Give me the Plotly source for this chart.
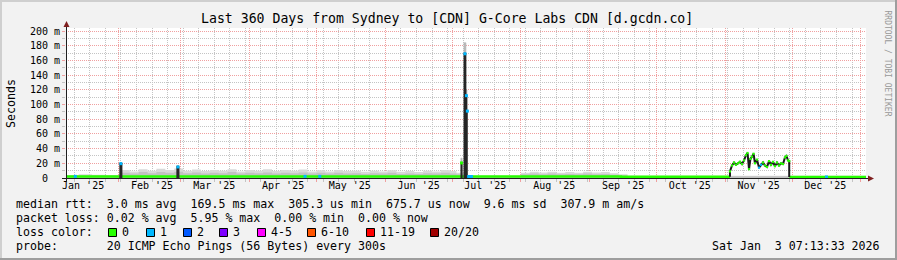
import plotly.graph_objects as go
import pandas as pd

MONO = "DejaVu Sans Mono"
W, H = 897, 260
PL, PR, PT, PB = 66, 866, 28, 178          # plot area in pixels
T_START, T_END = "2025-01-08 07:13:33", "2026-01-03 07:13:33"
Y_MAX = 204.08

BACK, SHADE_A, SHADE_B = "#f2f2f2", "#cfcfcf", "#9e9e9e"
GRID, MGRID = "#c4c4c4", "#f0a0a0"
ARROW, AXIS = "#7f1f1f", "#1f1f1f"
SMOKE_LIGHT, SMOKE_MID, SMOKE_DARK, SMOKE_CAP = "#d9d9d9", "#c2c2c2", "#262626", "#b8b8b8"

# ---------------- data ----------------
loss_labels = ["0", "1", "2", "3", "4-5", "6-10", "11-19", "20/20"]
loss_colors = ["#26ff00", "#00b8ff", "#0059ff", "#7e00ff", "#ff00ff", "#ff5500", "#ff0000", "#a10000"]

month_labels = ["Jan '25", "Feb '25", "Mar '25", "Apr '25", "May '25", "Jun '25",
                "Jul '25", "Aug '25", "Sep '25", "Oct '25", "Nov '25", "Dec '25"]
month_label_dates = ["2025-01-16", "2025-02-16", "2025-03-16", "2025-04-16", "2025-05-16", "2025-06-16",
                     "2025-07-16", "2025-08-16", "2025-09-16", "2025-10-16", "2025-11-16", "2025-12-16"]
y_tick_vals = [0, 20, 40, 60, 80, 100, 120, 140, 160, 180, 200]
y_tick_text = ["0\u00a0\u00a0", "20 m", "40 m", "60 m", "80 m", "100 m", "120 m",
               "140 m", "160 m", "180 m", "200 m"]
y_minor_vals = [10, 30, 50, 70, 90, 110, 130, 150, 170, 190]

# smoke (spread of pings), ms
smoke_dates = ["2025-01-08 07:13", "2025-01-14", "2025-01-20", "2025-01-26", "2025-02-02",
               "2025-02-06", "2025-02-10", "2025-02-14", "2025-02-18", "2025-02-22",
               "2025-02-26", "2025-03-02", "2025-03-06", "2025-03-10", "2025-03-14",
               "2025-03-18", "2025-03-22", "2025-03-26", "2025-03-30", "2025-04-03",
               "2025-04-07", "2025-04-11", "2025-04-15", "2025-04-19", "2025-04-23",
               "2025-04-27", "2025-05-01", "2025-05-05", "2025-05-09", "2025-05-13",
               "2025-05-17", "2025-05-21", "2025-05-25", "2025-05-29", "2025-06-02",
               "2025-06-06", "2025-06-10", "2025-06-14", "2025-06-18", "2025-06-22",
               "2025-06-26", "2025-06-30", "2025-07-03", "2025-07-08", "2025-08-01",
               "2025-08-05", "2025-08-09", "2025-08-13", "2025-08-17", "2025-08-21",
               "2025-08-25", "2025-08-29", "2025-09-02", "2025-09-06", "2025-09-10",
               "2025-09-14", "2025-09-18", "2026-01-03 07:13"]
smoke_hi = [4.0, 5.0, 4.5, 4.0, 11.0,
            9.0, 12.0, 10.0, 12.5, 11.0,
            13.0, 10.0, 11.5, 9.5, 11.0,
            10.0, 12.0, 9.0, 11.0, 10.0,
            12.0, 9.5, 11.0, 10.0, 11.5,
            9.0, 10.5, 9.0, 11.0, 9.5,
            10.0, 8.5, 10.0, 9.0, 10.5,
            8.5, 9.5, 8.0, 10.0, 9.0,
            11.0, 9.5, 7.0, 3.0, 7.0,
            8.5, 7.5, 8.5, 7.0, 8.0,
            7.0, 8.5, 7.5, 8.0, 6.5,
            5.0, 3.0, 3.0]
smoke_mid = [3.0, 3.5, 3.5, 3.0, 7.0,
             6.0, 8.0, 6.5, 8.0, 7.0,
             8.5, 6.5, 7.5, 6.0, 7.0,
             6.5, 8.0, 6.0, 7.0, 6.5,
             7.5, 6.0, 7.0, 6.5, 7.5,
             6.0, 7.0, 6.0, 7.0, 6.0,
             6.5, 5.5, 6.5, 6.0, 7.0,
             5.5, 6.0, 5.5, 6.5, 6.0,
             7.0, 6.0, 5.0, 2.5, 5.0,
             6.0, 5.0, 6.0, 5.0, 5.5,
             5.0, 6.0, 5.0, 5.5, 4.5,
             3.5, 2.5, 2.5]

# median rtt baseline (loss 0), ms
baseline_dates = ["2025-01-08 07:13", "2025-07-08 00:00", "2025-09-15 00:00", "2025-11-03 02:00",
                  "2025-11-03 02:01", "2025-11-29 19:00", "2026-01-03 07:13"]
baseline_ms = [2.2, 2.0, 1.6, 1.6, None, 1.4, 1.4]

# short outage spikes (dense smoke column and light smoke cap), ms
spike_start = ["2025-02-01 12:00", "2025-02-27 04:00", "2025-07-05 00:00",
               "2025-07-06 09:00", "2025-07-07 07:00", "2025-07-07 18:00"]
spike_end = ["2025-02-02 12:00", "2025-02-28 04:00", "2025-07-05 14:00",
             "2025-07-07 07:00", "2025-07-07 18:00", "2025-07-08 02:00"]
spike_top = [20.3, 16.0, 20.8, 170.0, 113.0, 92.0]
spike_cap = [20.8, 16.5, 27.0, 184.0, 120.0, 92.0]

# November elevated period (median rtt), ms
nov_dates = ["2025-11-03 02:00", "2025-11-03 02:00", "2025-11-04 00:00", "2025-11-04 22:00",
             "2025-11-05 19:00", "2025-11-06 17:00", "2025-11-07 14:00", "2025-11-08 12:00",
             "2025-11-09 10:00", "2025-11-10 07:00", "2025-11-11 00:00", "2025-11-11 16:00",
             "2025-11-12 07:00", "2025-11-13 00:00", "2025-11-13 17:00", "2025-11-14 08:00",
             "2025-11-15 06:00", "2025-11-16 04:00", "2025-11-17 01:00", "2025-11-17 23:00",
             "2025-11-18 20:00", "2025-11-19 18:00", "2025-11-20 16:00", "2025-11-21 13:00",
             "2025-11-22 11:00", "2025-11-23 08:00", "2025-11-24 06:00", "2025-11-25 04:00",
             "2025-11-26 01:00", "2025-11-26 23:00", "2025-11-27 20:00", "2025-11-28 12:00",
             "2025-11-29 05:00", "2025-11-29 18:00", "2025-11-29 18:00"]
nov_ms = [1.6, 9, 17, 21, 18, 20, 22, 19, 24, 31, 34, 12, 26, 29, 33, 20, 25, 14, 18, 21,
          17, 15, 23, 18, 22, 16, 21, 17, 20, 19, 28, 30, 24, 23, 1.4]
nov_loss = [0, 0, 0, 0, 0, 0, 0, 0, 0, 0, 0, 0, 0, 0, 0, 0, 0, 1, 1, 0,
            0, 0, 0, 0, 0, 0, 0, 0, 0, 0, 0, 0, 0, 0, 0]

# isolated median samples with packet loss
mark_dates = ["2025-01-12 12:00", "2025-02-02 00:00", "2025-02-27 16:00", "2025-04-25 21:00",
              "2025-05-02 12:00", "2025-07-05 07:00", "2025-07-06 20:00", "2025-07-07 12:00",
              "2025-07-07 22:00", "2025-07-08 12:00", "2025-07-09 18:00", "2025-12-16 12:00"]
mark_ms = [2.2, 19.5, 15.0, 2.2, 2.2, 20.5, 169.0, 112.0, 91.0, 2.0, 2.0, 1.4]
mark_loss = [1, 1, 1, 1, 1, 0, 1, 1, 1, 1, 1, 1]

title = "Last 360 Days from Sydney to [CDN] G-Core Labs CDN [d.gcdn.co]"
legend_lines = [
    "median rtt:  3.0 ms avg  169.5 ms max  305.3 us min  675.7 us now  9.6 ms sd  307.9 m am/s",
    "packet loss: 0.02 % avg  5.95 % max  0.00 % min  0.00 % now",
    "loss color:",
    "probe:       20 ICMP Echo Pings (56 Bytes) every 300s",
]
timestamp = "Sat Jan  3 07:13:33 2026"

# ---------------- helpers (layout positions) ----------------
def fx(x):
    return (x - PL) / (PR - PL)

def fy(y):
    return (PB - y) / (PB - PT)

def nb(s):
    return s.replace(" ", "\u00a0")

def columns(starts, ends, lows, highs):
    xs, ys = [], []
    for a, b, lo, hi in zip(starts, ends, lows, highs):
        xs += [a, a, b, b, a, None]
        ys += [lo, hi, hi, lo, lo, None]
    return xs, ys

# ---------------- traces ----------------
fig = go.Figure()

fig.add_trace(go.Scatter(x=smoke_dates, y=smoke_hi, mode="lines", line=dict(width=0, shape="hv"),
                         fill="tozeroy", fillcolor=SMOKE_LIGHT, hoverinfo="skip"))
fig.add_trace(go.Scatter(x=smoke_dates, y=smoke_mid, mode="lines", line=dict(width=0, shape="hv"),
                         fill="tozeroy", fillcolor=SMOKE_MID, hoverinfo="skip"))
fig.add_trace(go.Scatter(x=baseline_dates, y=baseline_ms, mode="lines",
                         line=dict(width=2.5, shape="hv", color=loss_colors[0]),
                         connectgaps=False, hoverinfo="skip"))

cx, cy = columns(spike_start, spike_end, spike_top, spike_cap)
fig.add_trace(go.Scatter(x=cx, y=cy, mode="lines", fill="toself", fillcolor=SMOKE_CAP,
                         line=dict(width=0.6, color=SMOKE_CAP), hoverinfo="skip"))
dx, dy = columns(spike_start, spike_end, [0] * len(spike_top), spike_top)
fig.add_trace(go.Scatter(x=dx, y=dy, mode="lines", fill="toself", fillcolor=SMOKE_DARK,
                         line=dict(width=0.8, color=SMOKE_DARK), hoverinfo="skip"))

fig.add_trace(go.Scatter(x=nov_dates, y=nov_ms, mode="lines", line=dict(width=2, color="#1a1a1a"),
                         hoverinfo="skip"))
fig.add_trace(go.Scatter(x=nov_dates[1:-1], y=nov_ms[1:-1], mode="markers",
                         marker=dict(symbol="square", size=2.2, color=[loss_colors[i] for i in nov_loss[1:-1]],
                                     line=dict(width=0)), hoverinfo="skip"))
fig.add_trace(go.Scatter(x=mark_dates, y=mark_ms, mode="markers",
                         marker=dict(symbol="square", size=3, color=[loss_colors[i] for i in mark_loss],
                                     line=dict(width=0)), hoverinfo="skip"))
# carrier for the monthly grid axis
fig.add_trace(go.Scatter(x=[T_START], y=[None], xaxis="x2", mode="lines", hoverinfo="skip"))

week_lines = pd.date_range("2025-01-12", "2025-12-28", freq="7D")
month_lines = pd.date_range("2025-02-01", "2026-01-01", freq="MS")

fig.update_layout(
    width=W, height=H,
    margin=dict(l=PL, r=W - PR, t=PT, b=H - PB, pad=0),
    paper_bgcolor=BACK, plot_bgcolor="white",
    showlegend=False, hovermode=False,
    font=dict(family=MONO, color="black"),
    xaxis=dict(type="date", range=[T_START, T_END], tickmode="array", tickvals=month_label_dates,
               ticktext=month_labels, showgrid=False, ticks="", zeroline=False, showline=False,
               tickfont=dict(family=MONO, size=10, color="black"),
               minor=dict(tickmode="array", tickvals=list(week_lines), showgrid=True, gridcolor=GRID,
                          griddash="1px,1px", gridwidth=1, ticks="outside", ticklen=3, tickcolor=GRID)),
    xaxis2=dict(type="date", range=[T_START, T_END], overlaying="x", anchor="y", side="bottom",
                tickmode="array", tickvals=list(month_lines), showticklabels=False, showgrid=True,
                gridcolor=MGRID, griddash="1px,1px", gridwidth=1, ticks="outside", ticklen=3,
                tickcolor=MGRID, zeroline=False, showline=False),
    yaxis=dict(range=[0, Y_MAX], tickmode="array", tickvals=y_tick_vals, ticktext=y_tick_text,
               showgrid=True, gridcolor=MGRID, griddash="1px,1px", gridwidth=1, ticks="outside",
               ticklen=3, tickcolor=MGRID, zeroline=False, showline=False,
               tickfont=dict(family=MONO, size=10, color="black"),
               minor=dict(tickmode="array", tickvals=y_minor_vals, showgrid=True, gridcolor=GRID,
                          griddash="1px,1px", gridwidth=1, ticks="outside", ticklen=3, tickcolor=GRID)),
)

shapes = []
# 3D frame
shapes.append(dict(type="rect", xref="paper", yref="paper", x0=fx(0), x1=fx(W), y0=fy(0), y1=fy(2),
                   fillcolor=SHADE_A, line=dict(width=0)))
shapes.append(dict(type="rect", xref="paper", yref="paper", x0=fx(0), x1=fx(2), y0=fy(0), y1=fy(H),
                   fillcolor=SHADE_A, line=dict(width=0)))
shapes.append(dict(type="rect", xref="paper", yref="paper", x0=fx(0), x1=fx(W), y0=fy(H - 2), y1=fy(H),
                   fillcolor=SHADE_B, line=dict(width=0)))
shapes.append(dict(type="rect", xref="paper", yref="paper", x0=fx(W - 2), x1=fx(W), y0=fy(0), y1=fy(H),
                   fillcolor=SHADE_B, line=dict(width=0)))
# axes
shapes.append(dict(type="line", xref="paper", yref="paper", x0=fx(62), x1=fx(869), y0=fy(178.5), y1=fy(178.5),
                   line=dict(color=AXIS, width=1)))
shapes.append(dict(type="line", xref="paper", yref="paper", x0=fx(66.5), x1=fx(66.5), y0=fy(182), y1=fy(26),
                   line=dict(color=AXIS, width=1)))
shapes.append(dict(type="path", xref="paper", yref="paper",
                   path=f"M {fx(868)} {fy(175.5)} L {fx(874)} {fy(178.5)} L {fx(868)} {fy(181.5)} Z",
                   fillcolor=ARROW, line=dict(width=0)))
shapes.append(dict(type="path", xref="paper", yref="paper",
                   path=f"M {fx(63.5)} {fy(27)} L {fx(66.5)} {fy(21)} L {fx(69.5)} {fy(27)} Z",
                   fillcolor=ARROW, line=dict(width=0)))

# loss colour swatches
swatch_x = [108, 146, 183, 219, 257, 307, 366, 430]
for sx, col in zip(swatch_x, loss_colors):
    shapes.append(dict(type="rect", xref="paper", yref="paper", x0=fx(sx + 0.5), x1=fx(sx + 8.5),
                       y0=fy(228.5), y1=fy(236.5), fillcolor=col, line=dict(color="black", width=1)))
fig.update_layout(shapes=shapes)

ann = []
def add_text(text, x, y, size, xanchor="left", angle=0, color="black"):
    ann.append(dict(text=nb(text), xref="paper", yref="paper", x=fx(x), y=fy(y), showarrow=False,
                    xanchor=xanchor, yanchor="middle", textangle=angle, borderpad=0, borderwidth=0,
                    font=dict(family=MONO, size=size, color=color)))

add_text(title, 446.5, 18.5, 13.2, xanchor="center")
add_text("Seconds", 11, 103, 11.6, xanchor="center", angle=-90)
add_text("RRDTOOL / TOBI OETIKER", 886.5, 63, 8, xanchor="center", angle=90, color="#999999")
rows_y = [204, 218, 232, 246]
for line, yy in zip(legend_lines, rows_y):
    add_text(line, 16, yy, 11.6)
for sx, lab in zip(swatch_x, loss_labels):
    add_text(lab, sx + 14, 232, 11.6)
add_text(timestamp, 880, 246, 11.6, xanchor="right")
fig.update_layout(annotations=ann)

fig.write_html("out.html")
